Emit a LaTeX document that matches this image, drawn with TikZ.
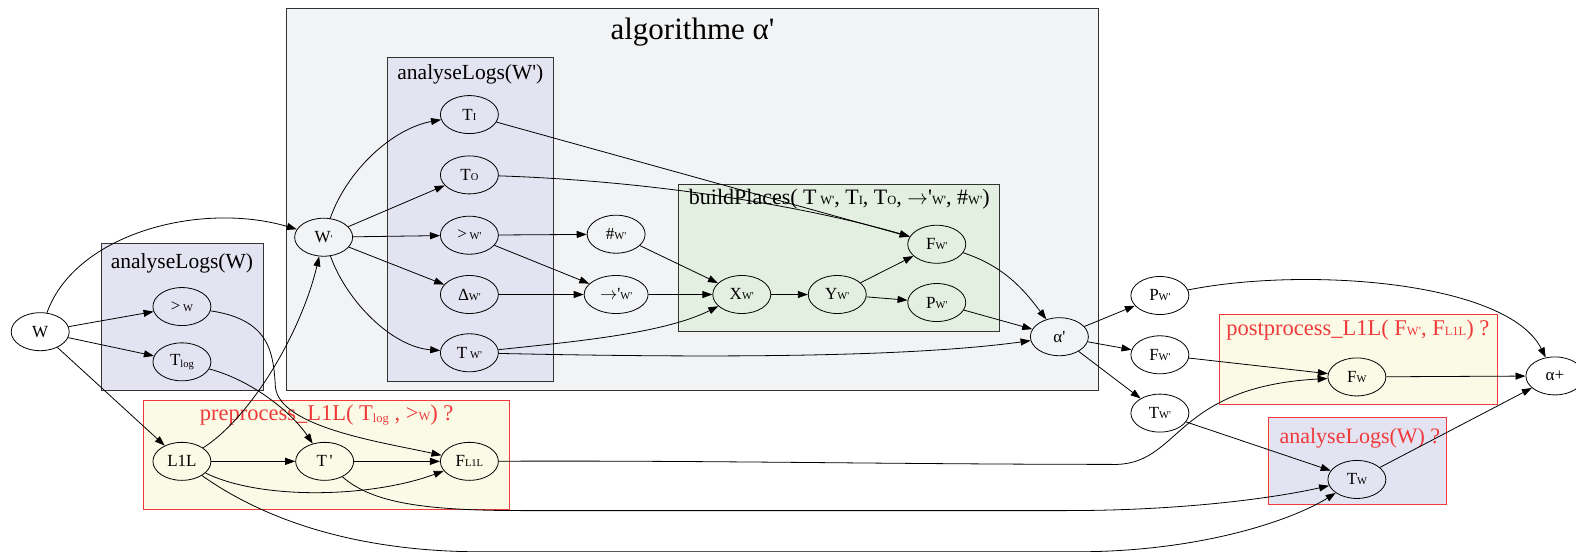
\documentclass[tikz,border=0pt]{standalone}
\usepackage{fontspec}
\setmainfont{Liberation Serif}[Ligatures=TeXOff]
\usetikzlibrary{arrows.meta,shapes.geometric}
\definecolor{algbg}{HTML}{F2F3F5}
\definecolor{logbg}{HTML}{E3E3F1}
\definecolor{bpbg}{HTML}{E3EFE0}
\definecolor{ppbg}{HTML}{FAFAE6}
\definecolor{redc}{HTML}{F03A3A}
\definecolor{boxc}{HTML}{333333}
\newcommand\sbs[1]{{\fontsize{10.5}{10.5}\selectfont #1}}
\newcommand\lsb[1]{\raisebox{-2pt}{\fontsize{10.5}{10.5}\selectfont #1}}
\newcommand\cbs[1]{{\fontsize{12.5}{12.5}\selectfont #1}}
\newcommand\clsb[1]{\raisebox{-2pt}{\fontsize{12.5}{12.5}\selectfont #1}}
\newcommand\rarr{\ensuremath{\rightarrow}}
\begin{document}
\begin{tikzpicture}[x=1.005pt,y=-1.005pt,
  nd/.style={draw, ellipse, minimum width=58pt, minimum height=38pt, inner sep=0pt, font=\fontsize{17}{17}\selectfont, line width=0.8pt},
  edge/.style={-{Triangle[length=10pt,width=7pt]}, line width=0.8pt},
  cl/.style={draw=boxc, line width=0.8pt},
  rcl/.style={draw=redc, line width=0.8pt},
  cllab/.style={font=\fontsize{21.5}{24}\selectfont},
  rlab/.style={font=\fontsize{22.5}{26}\selectfont, text=redc}]
\useasboundingbox (0,0) rectangle (1568,549);
% clusters
\path[cl, fill=algbg] (285,8) rectangle (1093,388);
\node[font=\fontsize{31}{34}\selectfont] (algl) at (689,32) {algorithme α'};
\path[cl, fill=logbg] (101,242) rectangle (262,388);
\node[cllab] (alwl) at (181,262) {analyseLogs(W)};
\path[cl, fill=logbg] (385,57) rectangle (551,379);
\node[cllab] (alwpl) at (468,74) {analyseLogs(W')};
\path[cl, fill=bpbg] (675,183) rectangle (994,330);
\node[cllab, font=\fontsize{22}{24}\selectfont] (bpl) at (835,198) {buildPlaces( T\,\cbs{W'}, T\cbs{I}, T\cbs{O}, \rarr'\cbs{W'}, \#\cbs{W'})};
\path[rcl, fill=ppbg] (143,398) rectangle (507,507);
\node[rlab] (prel) at (325,413) {preprocess\_L1L( T\clsb{log} , >\cbs{W}) ?};
\path[rcl, fill=ppbg] (1213,313) rectangle (1490,402);
\node[rlab] (postl) at (1351,328) {postprocess\_L1L( F\cbs{W'}, F\cbs{L1L}) ?};
\path[rcl, fill=logbg] (1262,415) rectangle (1439,502);
\node[rlab, font=\fontsize{22}{26}\selectfont] (alw2l) at (1353,436) {analyseLogs(W) ?};
% nodes
\node[nd] (W) at (40,330) {W};
\node[nd] (gtW) at (181,305) {>\,\sbs{W}};
\node[nd] (Tlog) at (181,360) {T\lsb{log}};
\node[nd] (Wp) at (322,236) {W\sbs{'}};
\node[nd] (TI) at (467,114) {T\sbs{I}};
\node[nd] (TO) at (467,174) {T\sbs{O}};
\node[nd] (gtWp) at (467,234) {>\,\sbs{W'}};
\node[nd] (DWp) at (467,293) {Δ\sbs{W'}};
\node[nd] (TWp) at (467,351) {T\,\sbs{W'}};
\node[nd] (hWp) at (613,233) {\#\sbs{W'}};
\node[nd, minimum width=64pt] (arWp) at (613,293) {\rarr'\sbs{W'}};
\node[nd] (XWp) at (738,293) {X\sbs{W'}};
\node[nd] (YWp) at (833,293) {Y\sbs{W'}};
\node[nd] (FWpi) at (932,243) {F\sbs{W'}};
\node[nd] (PWpi) at (932,301) {P\sbs{W'}};
\node[nd] (ap) at (1054,335) {α'};
\node[nd] (PWpo) at (1154,294) {P\sbs{W'}};
\node[nd] (FWpo) at (1154,353) {F\sbs{W'}};
\node[nd] (TWpo) at (1154,411) {T\sbs{W'}};
\node[nd] (FW) at (1350,375) {F\sbs{W}};
\node[nd] (aplus) at (1547,374) {α+};
\node[nd] (TW) at (1350,477) {T\sbs{W}};
\node[nd] (L1L) at (181,459) {L1L};
\node[nd] (Tp) at (323,459) {T\,'};
\node[nd] (FL1L) at (467,459) {F\sbs{L1L}};
% edges
\draw[edge] (W) .. controls (75,232) and (200,200) .. (Wp);
\draw[edge] (W) -- (gtW);
\draw[edge] (W) -- (Tlog);
\draw[edge] (W) -- (L1L);
\draw[edge] (gtW) .. controls (268,318) and (272,350) .. (274,385) .. controls (278,425) and (380,440) .. (FL1L);
\draw[edge] (Tlog) .. controls (250,378) and (290,410) .. (Tp);
\draw[edge] (L1L) .. controls (250,415) and (300,330) .. (Wp);
\draw[edge] (L1L) -- (Tp);
\draw[edge] (Tp) -- (FL1L);
\draw[edge] (L1L) .. controls (260,498) and (370,495) .. (FL1L);
\draw[edge] (Tp) .. controls (370,500) and (420,508) .. (520,508) -- (1060,508) .. controls (1180,508) and (1270,495) .. (TW);
\draw[edge] (L1L) .. controls (260,515) and (350,549) .. (480,549) -- (1070,549) .. controls (1200,549) and (1290,515) .. (TW);
\draw[edge] (FL1L) .. controls (700,458) and (900,462) .. (1105,462) .. controls (1175,465) and (1165,385) .. (FW);
\draw[edge] (Wp) .. controls (345,170) and (390,128) .. (TI);
\draw[edge] (Wp) -- (TO);
\draw[edge] (Wp) -- (gtWp);
\draw[edge] (Wp) -- (DWp);
\draw[edge] (Wp) .. controls (345,300) and (390,345) .. (TWp);
\draw[edge] (TI) -- (FWpi);
\draw[edge] (TO) .. controls (650,180) and (800,205) .. (FWpi);
\draw[edge] (gtWp) -- (hWp);
\draw[edge] (gtWp) -- (arWp);
\draw[edge] (DWp) -- (arWp);
\draw[edge] (hWp) -- (XWp);
\draw[edge] (arWp) -- (XWp);
\draw[edge] (TWp) .. controls (570,340) and (660,332) .. (XWp);
\draw[edge] (TWp) .. controls (700,356) and (900,356) .. (ap);
\draw[edge] (XWp) -- (YWp);
\draw[edge] (YWp) -- (FWpi);
\draw[edge] (YWp) -- (PWpi);
\draw[edge] (FWpi) .. controls (1000,265) and (1020,290) .. (ap);
\draw[edge] (PWpi) -- (ap);
\draw[edge] (ap) -- (PWpo);
\draw[edge] (ap) -- (FWpo);
\draw[edge] (ap) -- (TWpo);
\draw[edge] (PWpo) .. controls (1300,265) and (1500,280) .. (aplus);
\draw[edge] (FWpo) -- (FW);
\draw[edge] (FW) -- (aplus);
\draw[edge] (TWpo) -- (TW);
\draw[edge] (TW) -- (aplus);
\end{tikzpicture}
\end{document}
